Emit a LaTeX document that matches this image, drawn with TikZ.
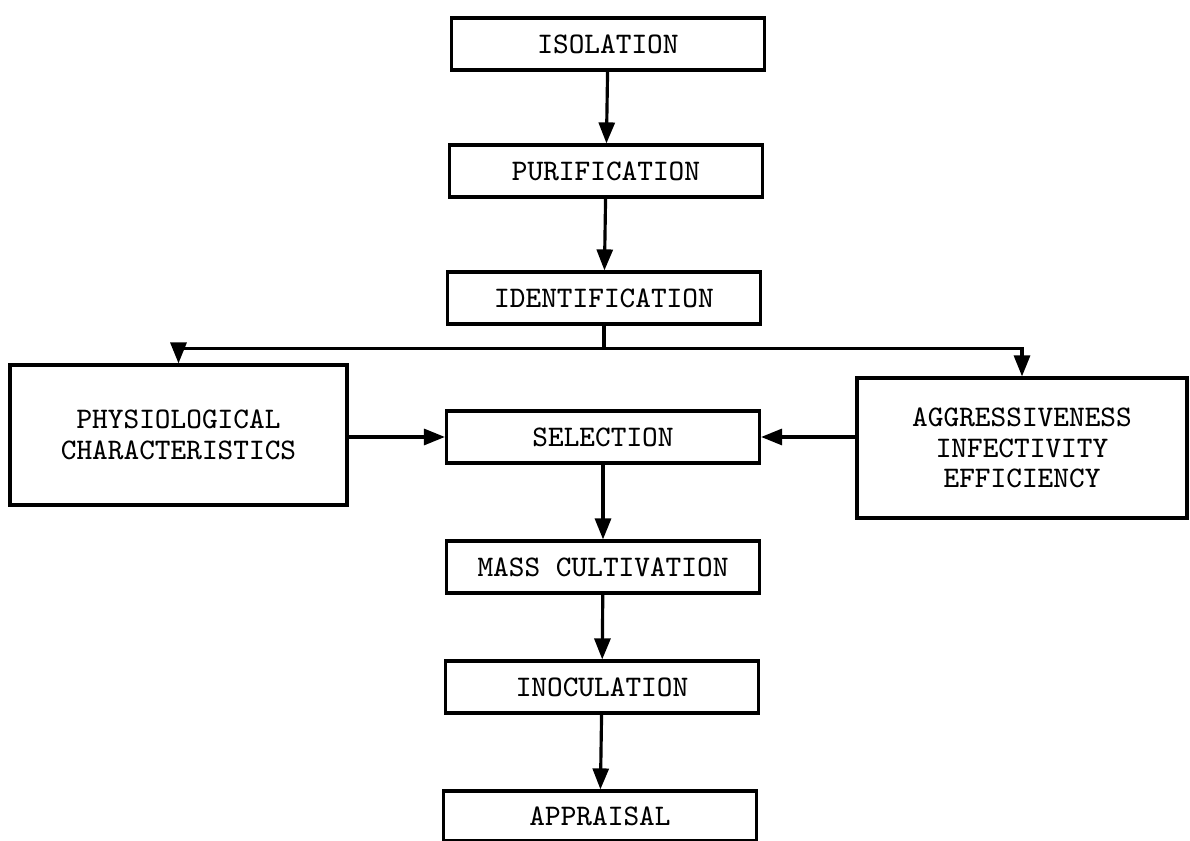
\documentclass[tikz,border=0pt]{standalone}
\usepackage{tikz}
\usetikzlibrary{calc,arrows.meta}

\begin{document}
\begin{tikzpicture}
        % Box formulae
        \pgfmathsetmacro{\boxw}{3.13}
        \pgfmathsetmacro{\boxh}{0.52}

        \tikzset{
            stage/.style={draw, line width=0.9pt, minimum width=\boxw cm,
            minimum height=\boxh cm, inner sep=0pt, align=center,
            font=\ttfamily\fontsize{8.5}{8.7}\selectfont},
            bigstage/.style={stage, minimum width=3.35cm,
            minimum height=1.40cm},
            arr/.style={line width=0.9pt, -{Triangle[length=2.1mm, width=1.6mm]}},
        }

        % Page size of the reference
        \useasboundingbox (0, 0) rectangle (11.90, 8.41);

        % Main column
        \node[stage] (isol) at (6.08, 7.97) {ISOLATION};
        \node[stage] (purif) at (6.06, 6.70) {PURIFICATION};
        \node[stage] (ident) at (6.04, 5.43) {IDENTIFICATION};
        \node[stage] (select) at (6.03, 4.04) {SELECTION};
        \node[stage] (mass) at (6.03, 2.74) {MASS CULTIVATION};
        \node[stage] (inoc) at (6.02, 1.54) {INOCULATION};
        \node[stage, minimum height=0.50cm] (appr) at (6.00, 0.25) {APPRAISAL};

        % Side boxes
        \node[bigstage, minimum width=3.37cm] (phys) at (1.785, 4.06)
            {PHYSIOLOGICAL\\CHARACTERISTICS};
        \node[bigstage, minimum width=3.30cm] (aggr) at (10.22, 3.93)
            {AGGRESSIVENESS\\INFECTIVITY\\EFFICIENCY};

        \begin{scope}[line width=0.9pt]
            \draw[arr] (isol) -- (purif);
            \draw[arr] (purif) -- (ident);

            \draw (ident.south) -- ++(0, -0.23) coordinate (split);
            \draw[arr] (split) -| (phys.north);
            \draw[arr] (split) -| (aggr.north);

            \draw[arr] (phys.east |- select) -- (select.west);
            \draw[arr] (aggr.west |- select) -- (select.east);

            \draw[arr] (select) -- (mass);
            \draw[arr] (mass) -- (inoc);
            \draw[arr] (inoc) -- (appr);
        \end{scope}

        \end{tikzpicture}
\end{document}
